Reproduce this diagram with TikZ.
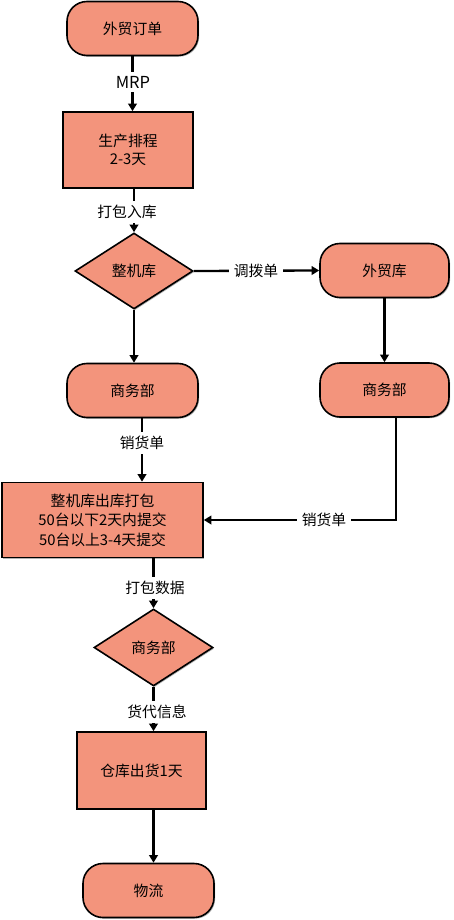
\documentclass[tikz,border=0pt]{standalone}
\usepackage{fontspec}
\setmainfont{Noto Sans CJK SC}
\usetikzlibrary{shapes.geometric,arrows.meta,shadows}
\definecolor{boxfill}{RGB}{243,148,124}
\begin{document}
\begin{tikzpicture}[x=1pt,y=-1pt,
  every node/.style={font=\fontsize{14.8}{19.5}\selectfont},
  shd/.style={drop shadow={shadow xshift=1.2pt,shadow yshift=-1.2pt,fill=black,opacity=.3}},
  base/.style={draw=black,line width=1.6pt,fill=boxfill,shd,align=center,inner sep=2pt},
  term/.style={base,rounded corners=20pt,minimum width=#1,minimum height=54pt},
  proc/.style={base,rectangle,minimum width=#1,minimum height=76pt},
  dec/.style={base,diamond,minimum width=118pt,minimum height=76pt,inner sep=0pt},
  arr/.style={line width=2.3pt,-{Triangle[width=8.5pt,length=7.5pt]}},
  lbl/.style={fill=white,inner xsep=5pt,inner ysep=4pt}
]
\useasboundingbox (0,0) rectangle (453,920);
% nodes
\node[term=131pt] (A) at (132.5,28.5) {外贸订单};
\node[proc=130pt] (B) at (128,150) {生产排程\\[-1pt]2-3天};
\node[dec] (C) at (134,271) {整机库};
\node[term=129pt] (D) at (384.5,270.5) {外贸库};
\node[term=131pt] (E) at (132.5,390.5) {商务部};
\node[term=129pt] (F) at (384.5,390) {商务部};
\node[proc=201pt,minimum height=75pt] (G) at (102.5,520) {整机库出库打包\\50台以下2天内提交\\50台以上3-4天提交};
\node[dec,minimum width=119pt,minimum height=77pt] (H) at (153.5,647.5) {商务部};
\node[proc=129pt,minimum height=77pt] (I) at (141.5,770.5) {仓库出货1天};
\node[term=131pt] (J) at (148.5,890.5) {物流};
% connectors
\draw[arr] (A.south) -- (A.south |- B.north);
\draw[arr] (C.north |- B.south) -- (C.north);
\draw[arr] (C.south) -- (C.south |- E.north);
\draw[arr] (C.east) -- (D.west);
\draw[arr] (D.south) -- (D.south |- F.north);
\draw[arr] ([xshift=9.5pt]E.south) -- ([xshift=9.5pt]E.south |- G.north);
\draw[arr] ([xshift=11.5pt]F.south) |- (G.east);
\draw[arr] (H.north |- G.south) -- (H.north);
\draw[arr] (H.south) -- (H.south |- I.north);
\draw[arr] (H.south |- I.south) -- (H.south |- J.north);
% labels
\node[lbl,font=\fontsize{16.5}{19}\selectfont] (l1) at (133,82) {MRP};
\node[lbl] (l2) at (127,212) {打包入库};
\node[lbl] (l3) at (256,271) {调拨单};
\node[lbl] (l4) at (142,443) {销货单};
\node[lbl] (l5) at (324,520) {销货单};
\node[lbl] (l6) at (155,588) {打包数据};
\node[lbl] (l7) at (157,712) {货代信息};
\end{tikzpicture}
\end{document}
